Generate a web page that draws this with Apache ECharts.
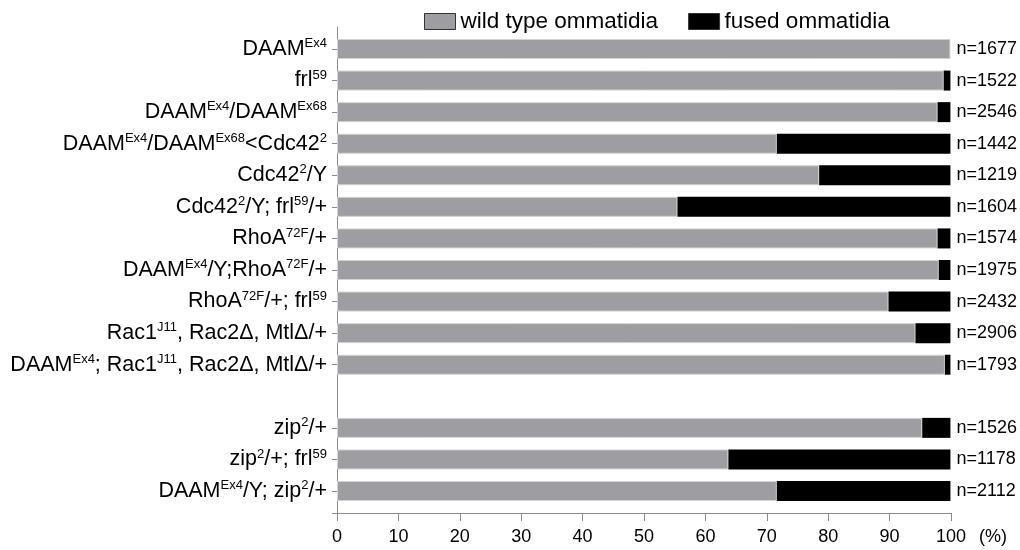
<!DOCTYPE html>
<html>
<head>
<meta charset="utf-8">
<script src="https://cdn.jsdelivr.net/npm/echarts@6/dist/echarts.min.js"></script>
<style>html,body{margin:0;padding:0;background:#fff}#c{width:1020px;height:550px}</style>
</head>
<body>
<div id="c"></div>
<script>
// Genotype labels ({s|...} = superscript); '' is the blank separator row
const categories = [
  'DAAM{s|Ex4}',
  'frl{s|59}',
  'DAAM{s|Ex4}/DAAM{s|Ex68}',
  'DAAM{s|Ex4}/DAAM{s|Ex68}<Cdc42{s|2}',
  'Cdc42{s|2}/Y',
  'Cdc42{s|2}/Y; frl{s|59}/+',
  'RhoA{s|72F}/+',
  'DAAM{s|Ex4}/Y;RhoA{s|72F}/+',
  'RhoA{s|72F}/+; frl{s|59}',
  'Rac1{s|J11}, Rac2Δ, MtlΔ/+',
  'DAAM{s|Ex4}; Rac1{s|J11}, Rac2Δ, MtlΔ/+',
  '',
  'zip{s|2}/+',
  'zip{s|2}/+; frl{s|59}',
  'DAAM{s|Ex4}/Y; zip{s|2}/+'
];
const wildType = [100, 98.9, 97.9, 71.7, 78.6, 55.5, 97.9, 98.1, 89.9, 94.3, 99.1, null, 95.4, 63.8, 71.7];
const fused    = [0, 1.1, 2.1, 28.3, 21.4, 44.5, 2.1, 1.9, 10.1, 5.7, 0.9, null, 4.6, 36.2, 28.3];
const nLabels  = ['n=1677','n=1522','n=2546','n=1442','n=1219','n=1604','n=1574','n=1975','n=2432','n=2906','n=1793','','n=1526','n=1178','n=2112'];
const xTicks = { min: 0, max: 100, interval: 10 };
const seriesNames = ['wild type ommatidia', 'fused ommatidia'];

const axisGrey = '#8c8c8c';
const font = 'Liberation Sans, Arial, sans-serif';
const chart = echarts.init(document.getElementById('c'), null, { renderer: 'canvas' });
chart.setOption({
  animation: false,
  textStyle: { fontFamily: font, color: '#000' },
  legend: {
    data: seriesNames,
    left: 424, top: 10, padding: 0,
    itemWidth: 31, itemHeight: 16, itemGap: 30,
    icon: 'rect',
    itemStyle: { borderColor: '#333', borderWidth: 1 },
    textStyle: { fontSize: 22.5, color: '#000', fontFamily: font }
  },
  grid: [
    { left: 337, right: 69, top: 33.2, height: 473.6, containLabel: false },
    { left: 337, right: 69, top: 27, height: 486, containLabel: false }
  ],
  xAxis: [
    { type: 'value', gridIndex: 0, min: xTicks.min, max: xTicks.max, interval: xTicks.interval, show: false },
    {
      type: 'value', gridIndex: 1, min: xTicks.min, max: xTicks.max, interval: xTicks.interval,
      splitLine: { show: false },
      axisLine: { show: true, lineStyle: { color: axisGrey, width: 1 } },
      axisTick: { show: true, length: 8, lineStyle: { color: axisGrey } },
      axisLabel: { fontSize: 18, color: '#000', margin: 15, fontFamily: font },
      name: '(%)', nameLocation: 'end', nameGap: 28,
      nameTextStyle: { fontSize: 18, color: '#000', verticalAlign: 'top', padding: [15, 0, 0, 0], fontFamily: font }
    }
  ],
  yAxis: [
    {
      type: 'category', gridIndex: 0, data: categories, inverse: true,
      axisLine: { show: false },
      axisTick: { show: true, alignWithLabel: true, length: 5, lineStyle: { color: axisGrey },
                  interval: (i, v) => v !== '' },
      axisLabel: {
        interval: 0, margin: 10, fontSize: 21.5, lineHeight: 24, color: '#000', fontFamily: font,
        formatter: v => v,
        rich: { s: { fontSize: 13, lineHeight: 20, verticalAlign: 'top', color: '#000', fontFamily: font } }
      }
    },
    {
      type: 'category', gridIndex: 0, data: nLabels, inverse: true, position: 'right',
      axisLine: { show: false }, axisTick: { show: false },
      axisLabel: { interval: 0, margin: 6, fontSize: 18, color: '#000', fontFamily: font }
    },
    {
      type: 'value', gridIndex: 1, min: 0, max: 1, interval: 1,
      splitLine: { show: false },
      axisLine: { show: true, lineStyle: { color: axisGrey, width: 1 } },
      axisTick: { show: true, length: 5, lineStyle: { color: axisGrey }, customValues: [0] },
      axisLabel: { show: false }
    }
  ],
  series: [
    {
      name: seriesNames[0], type: 'bar', stack: 'total', xAxisIndex: 0, yAxisIndex: 0,
      data: wildType, barWidth: 20,
      itemStyle: { color: '#9e9da2', borderColor: '#d4d4d6', borderWidth: 1 }
    },
    {
      name: seriesNames[1], type: 'bar', stack: 'total', xAxisIndex: 0, yAxisIndex: 0,
      data: fused, barWidth: 20,
      itemStyle: { color: '#000', borderWidth: 0 }
    }
  ]
});
</script>
</body>
</html>
